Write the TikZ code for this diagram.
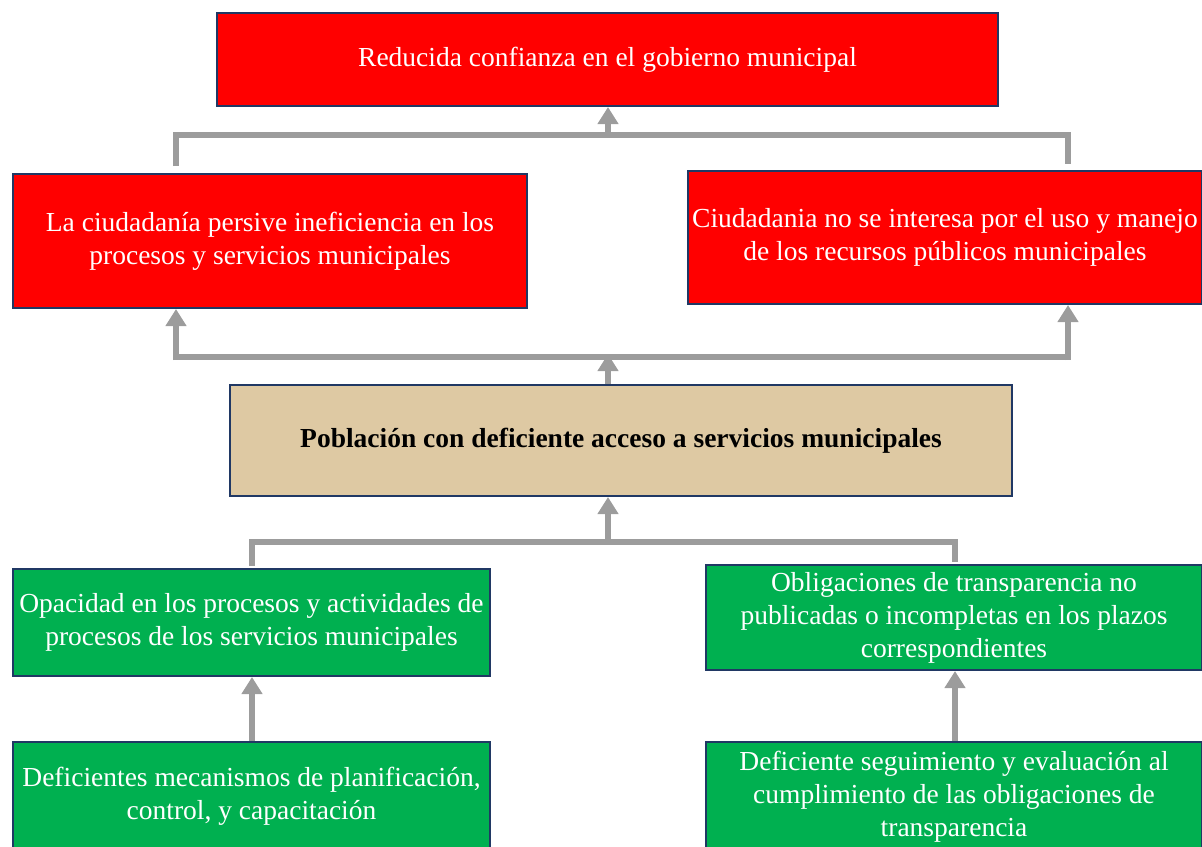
\documentclass[tikz,border=0pt]{standalone}
\usepackage{fontspec}
\setmainfont{Liberation Serif}
\usetikzlibrary{arrows.meta}
\definecolor{bred}{HTML}{FF0000}
\definecolor{bgreen}{HTML}{00B050}
\definecolor{btan}{HTML}{DEC9A3}
\definecolor{bnavy}{HTML}{203864}
\definecolor{cgray}{HTML}{9C9C9C}
\tikzset{
  box/.style={draw=bnavy, line width=2pt, inner sep=0pt, align=center,
    font=\fontsize{27.5}{33}\selectfont},
  redbox/.style={box, fill=bred, text=white},
  greenbox/.style={box, fill=bgreen, text=white},
  tanbox/.style={box, fill=btan, text=black, font=\fontsize{27.5}{33}\selectfont\bfseries},
  conn/.style={draw=cgray, line width=6pt},
  arr/.style={conn, -{Triangle[width=20pt,length=17pt]}},
}
\begin{document}
\begin{tikzpicture}[x=1pt,y=-1pt]
\useasboundingbox (0,0) rectangle (1202,846);
% boxes
\node[redbox, minimum width=781pt, minimum height=93pt] (top) at (607.5,59.5)
  {Reducida confianza en el gobierno municipal};
\node[redbox, minimum width=514pt, minimum height=134pt] (lred) at (270,241)
  {La ciudadanía persive ineficiencia en los\\procesos y servicios municipales};
\node[redbox, minimum width=514pt, minimum height=133pt] (rred) at (945,237.5)
  {Ciudadania no se interesa por el uso y manejo\\de los recursos públicos municipales};
\node[tanbox, minimum width=782pt, minimum height=111pt] (mid) at (621,440.5)
  {Población con deficiente acceso a servicios municipales};
\node[greenbox, minimum width=477pt, minimum height=107pt] (lg) at (251.5,622.5)
  {Opacidad en los procesos y actividades de\\procesos de los servicios municipales};
\node[greenbox, minimum width=496pt, minimum height=105pt] (rg) at (954,617.5)
  {Obligaciones de transparencia no\\publicadas o incompletas en los plazos\\correspondientes};
\node[greenbox, minimum width=477pt, minimum height=108pt] (lb) at (251.5,796)
  {Deficientes mecanismos de planificación,\\control, y capacitación};
\node[greenbox, minimum width=496pt, minimum height=110pt] (rb) at (954,797)
  {Deficiente seguimiento y evaluación al\\cumplimiento de las obligaciones de\\transparencia};
% coordinates
\coordinate (t1) at (176,135);
\coordinate (t2) at (1068,135);
\coordinate (tm) at (608,135);
\coordinate (m1) at (176,357);
\coordinate (m2) at (1068,357);
\coordinate (mm) at (608,357);
\coordinate (b1) at (252,542);
\coordinate (b2) at (955,542);
\coordinate (bm) at (608,542);
% top bracket
\draw[conn] ([yshift=7pt]lred.north -| t1) -- (t1) -- (t2) -- ([yshift=6pt]rred.north -| t2);
\draw[arr] (tm) -- (tm |- top.south);
% middle
\draw[conn] (m1) -- (m2);
\draw[arr] (mm |- mid.north) -- ([yshift=3pt]mm);
\draw[arr] ([yshift=-3pt]m1) -- (m1 |- lred.south);
\draw[arr] ([yshift=-3pt]m2) -- (m2 |- rred.south);
% bottom bracket
\draw[conn] ([yshift=2pt]lg.north -| b1) -- (b1) -- (b2) -- ([yshift=2pt]rg.north -| b2);
\draw[arr] (bm) -- (bm |- mid.south);
% lowest arrows
\draw[arr] (lb.north -| b1) -- (b1 |- lg.south);
\draw[arr] (rb.north -| b2) -- (b2 |- rg.south);
\end{tikzpicture}
\end{document}
